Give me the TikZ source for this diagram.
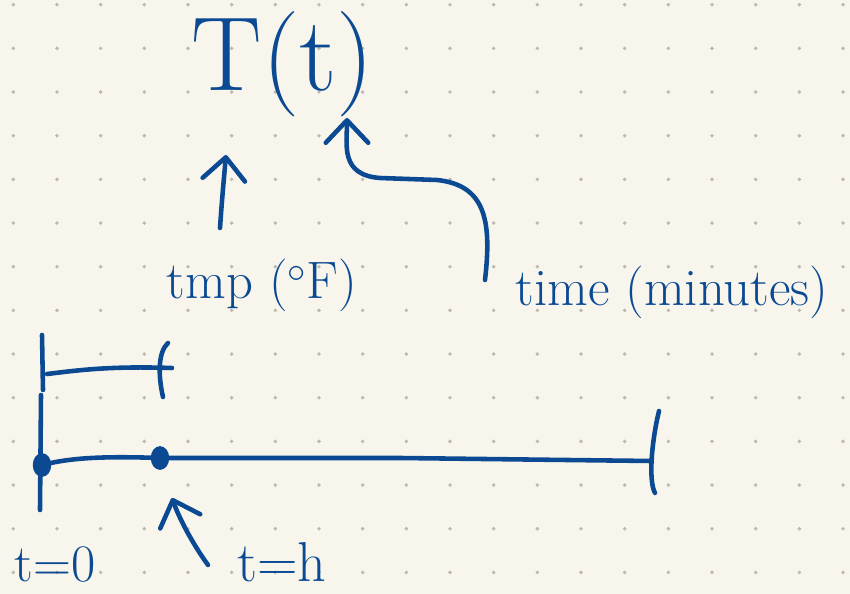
\documentclass[tikz,border=0pt]{standalone}
\usepackage{tikz}
\usetikzlibrary{arrows.meta,calc,shapes.geometric}
\definecolor{paper}{HTML}{F8F6EC}
\definecolor{ink}{HTML}{0B4A93}
\definecolor{dotgray}{HTML}{BDB9B0}
\tikzset{
  pen/.style={draw=ink, line width=2.6pt, line cap=round, line join=round},
  arrow/.style={pen, -{Straight Barb[round, length=4.5mm, width=8.5mm]}},
  hand/.style={text=ink, inner sep=0pt, font=\fontsize{30}{30}\selectfont},
  big/.style={text=ink, inner sep=0pt, font=\fontsize{60}{60}\selectfont},
  blob/.style={ellipse, fill=ink, draw=ink, line width=1pt, minimum width=9.5pt,
               minimum height=12.5pt, inner sep=0pt}
}

\begin{document}
\begin{tikzpicture}[x=0.02cm,y=-0.02cm]
        \fill[paper] (0,0) rectangle (850,594);
        \useasboundingbox (0,0) rectangle (850,594);
        \clip (0,0) rectangle (850,594);
        \foreach \i in {0,...,19} {
          \foreach \j in {0,...,13}
            {\fill[dotgray] (13.3+43.67*\i,4.7+43.67*\j) circle (1.1pt);}
        }

        \node[big] (Tt) at (283,64) {T(t)};
        \node[hand] (tmp) at (262,285) {tmp ($^{\circ}$F)};
        \node[hand] (time) at (672,292) {time (minutes)};
        \node[hand] (t0) at (55,565) {t=0};
        \node[hand,font=\fontsize{32}{32}\selectfont] (th) at (282,562) {t=h};

        \draw[arrow] ($(tmp)+(-42,-57)$) .. controls (222,200) .. ($(Tt)+(-57,91)$);
        \draw[arrow] ($(time)+(-187,-12)$) .. controls (492,220) and (485,185) .. (437,180)
          -- (380,178) .. controls (340,175) and (347,145) .. ($(Tt)+(64,54)$);

        \draw[pen] (42,335) -- (43,390);
        \draw[pen] (47,374) .. controls (80,370) and (110,366) .. (172,368);
        \draw[pen] (168,343) .. controls (158,352) and (158,375) .. (163,397);

        \node[blob] (p0) at (42,465) {};
        \node[blob] (p1) at (160,458) {};
        \coordinate (pend) at (651,461);
        \draw[pen] (41,395) -- (40,510);
        \draw[pen] (p0.center) .. controls (70,458) and (100,456) .. (p1.center) -- (400,458) -- (pend);
        \draw[pen] (659,411) .. controls (652,440) and (648,480) .. (655,493);

        \draw[arrow] ($(th)+(-74,3)$) .. controls ($(th)+(-92,-22)$) and ($(th)+(-104,-47)$)
          .. ($(p1)+(12,40)$);
      \end{tikzpicture}
\end{document}
